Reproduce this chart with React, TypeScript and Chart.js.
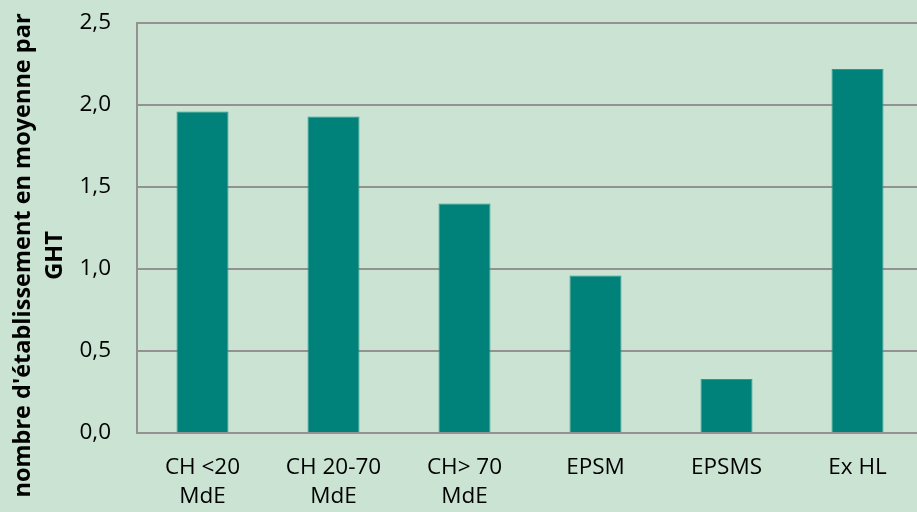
import React, { useEffect, useRef } from "react";
import { Chart, registerables } from "chart.js";

Chart.register(...registerables);

const categories: string[][] = [
  ["CH <20", "MdE"],
  ["CH 20-70", "MdE"],
  ["CH> 70", "MdE"],
  ["EPSM"],
  ["EPSMS"],
  ["Ex HL"],
];
const values: number[] = [1.96, 1.93, 1.4, 0.96, 0.33, 2.22];
const yTitle: string[] = ["nombre d'établissement en moyenne par", "GHT"];

const FONT = "'Open Sans'";
const GRID = "#929292";
const TITLE_SHIFT = "         ";

export default function App() {
  const ref = useRef<HTMLCanvasElement | null>(null);
  useEffect(() => {
    if (!ref.current) return;
    const chart = new Chart(ref.current, {
      type: "bar",
      data: {
        labels: categories,
        datasets: [
          {
            data: values,
            backgroundColor: "#00827a",
            borderColor: "#2a9a8e",
            borderWidth: 1,
            barPercentage: 0.397,
            categoryPercentage: 1,
          },
        ],
      },
      options: {
        responsive: false,
        animation: false,
        layout: { padding: { top: 23, right: 7, left: 7, bottom: 0 } },
        plugins: { legend: { display: false }, tooltip: { enabled: false } },
        scales: {
          x: {
            grid: { display: false, drawTicks: false },
            border: { display: true, color: GRID, width: 2 },
            ticks: {
              color: "#000",
              font: { family: FONT, size: 22.5, lineHeight: 1.3 },
              padding: 20,
              maxRotation: 0,
              autoSkip: false,
            },
            afterFit: (scale: any) => {
              scale.height = 79;
              scale.paddingLeft = 0;
              scale.paddingRight = 0;
            },
          },
          y: {
            min: 0,
            max: 2.5,
            grid: { color: GRID, lineWidth: 2, drawTicks: false },
            border: { display: true, color: GRID, width: 2 },
            ticks: {
              stepSize: 0.5,
              color: "#000",
              font: { family: FONT, size: 22.5 },
              padding: 26,
              callback: (v: any) => Number(v).toFixed(1).replace(".", ","),
            },
            title: {
              display: true,
              text: yTitle.map((t) => t + TITLE_SHIFT),
              color: "#000",
              font: { family: FONT, size: 23.5, weight: "bold", lineHeight: 1.36 },
              padding: { top: 0, bottom: 0 },
            },
            afterFit: (scale: any) => {
              scale.width = 130;
              scale.paddingTop = 0;
              scale.paddingBottom = 0;
            },
          },
        },
      },
    });
    return () => chart.destroy();
  }, []);
  return (
    <div
      style={{
        position: "fixed",
        left: 0,
        top: 0,
        width: 917,
        height: 512,
        overflow: "hidden",
        background: "#cbe3d2",
      }}
    >
      <canvas ref={ref} width={930} height={512} style={{ display: "block" }} />
    </div>
  );
}
